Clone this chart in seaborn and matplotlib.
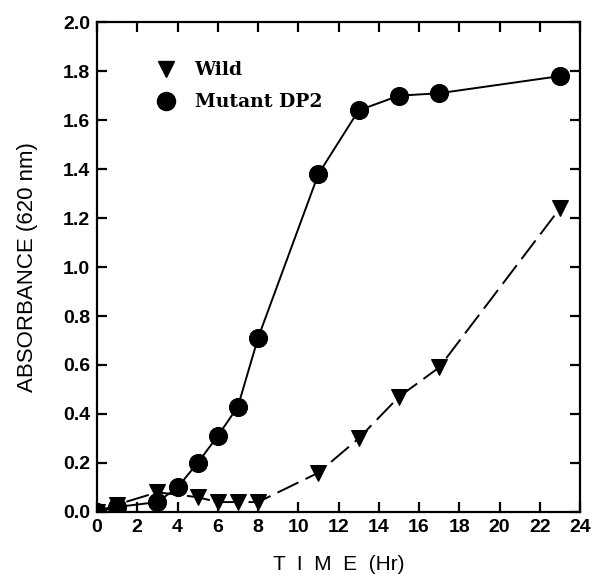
import matplotlib
matplotlib.use("Agg")
import matplotlib.pyplot as plt
from matplotlib.lines import Line2D
import pandas as pd
import seaborn as sns

time_hr = [0, 1, 3, 4, 5, 6, 7, 8, 11, 13, 15, 17, 23]
wild_time = [0, 1, 3, 5, 6, 7, 8, 11, 13, 15, 17, 23]
wild_abs = [0.00, 0.03, 0.08, 0.06, 0.04, 0.04, 0.04, 0.16, 0.30, 0.47, 0.59, 1.24]
mutant_abs = [0.00, 0.02, 0.04, 0.10, 0.20, 0.31, 0.43, 0.71, 1.38, 1.64, 1.70, 1.71, 1.78]

x_ticks = list(range(0, 25, 2))
y_ticks = [0.0, 0.2, 0.4, 0.6, 0.8, 1.0, 1.2, 1.4, 1.6, 1.8, 2.0]

sns.set_theme(style="ticks")
plt.rcParams["font.family"] = ["Liberation Sans", "DejaVu Sans"]
plt.rcParams["text.color"] = "black"
plt.rcParams["axes.labelcolor"] = "black"
plt.rcParams["xtick.color"] = "black"
plt.rcParams["ytick.color"] = "black"
plt.rcParams["axes.edgecolor"] = "black"

wild = pd.DataFrame({"t": wild_time, "a": wild_abs})
mutant = pd.DataFrame({"t": time_hr, "a": mutant_abs})

fig = plt.figure(figsize=(5.95, 5.85), dpi=100)
ax = fig.add_axes([0.163, 0.125, 0.812, 0.837])

sns.lineplot(data=wild, x="t", y="a", ax=ax, color="black", linewidth=1.4,
             linestyle=(0, (12, 4)), marker="v", markersize=11,
             markeredgecolor="black", markerfacecolor="black")
sns.lineplot(data=mutant, x="t", y="a", ax=ax, color="black", linewidth=1.4,
             marker="o", markersize=13,
             markeredgecolor="black", markerfacecolor="black")

ax.set_xlim(0, 24)
ax.set_ylim(0, 2.0)
ax.set_xticks(x_ticks)
ax.set_yticks(y_ticks)
ax.set_yticklabels([f"{v:.1f}" for v in y_ticks])
ax.tick_params(direction="in", length=7, width=1.6, top=True, right=True,
               labelsize=14, pad=5)
for lab in ax.get_xticklabels() + ax.get_yticklabels():
    lab.set_fontweight("bold")
for s in ax.spines.values():
    s.set_linewidth(1.6)

ax.set_xlabel("T  I  M  E  (Hr)", fontsize=15, labelpad=14)
ax.set_ylabel("ABSORBANCE (620 nm)", fontsize=16, labelpad=18)

handles = [
    Line2D([], [], color="black", marker="v", linestyle="none", markersize=12),
    Line2D([], [], color="black", marker="o", linestyle="none", markersize=13),
]
ax.legend(handles, ["Wild", "Mutant DP2"], loc="upper left",
          bbox_to_anchor=(0.07, 0.955), frameon=False, handletextpad=0.5,
          labelspacing=0.75, prop={"family": "DejaVu Serif", "weight": "bold", "size": 13.5})

fig.savefig("out.png", dpi=100)
